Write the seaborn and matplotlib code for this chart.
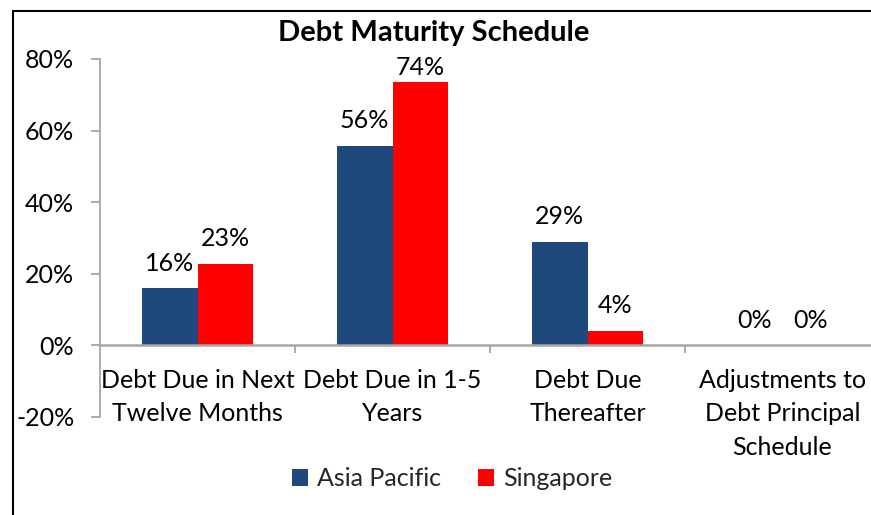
import matplotlib
matplotlib.use("Agg")
import matplotlib.pyplot as plt
import seaborn as sns
import pandas as pd
from matplotlib.ticker import FuncFormatter, FixedLocator
from matplotlib.patches import Patch
from matplotlib.lines import Line2D

categories = ["Debt Due in Next\nTwelve Months", "Debt Due in 1-5\nYears",
              "Debt Due\nThereafter", "Adjustments to\nDebt Principal\nSchedule"]
series = ["Asia Pacific", "Singapore"]
asia_pacific = [15.9, 55.6, 28.8, 0.0]
singapore = [22.7, 73.6, 4.1, 0.0]
asia_labels = ["16%", "56%", "29%", "0%"]
singapore_labels = ["23%", "74%", "4%", "0%"]
y_ticks = [-20, 0, 20, 40, 60, 80]

colors = {"Asia Pacific": "#1F497D", "Singapore": "#FF0000"}

df = pd.DataFrame({
    "category": categories * 2,
    "series": [series[0]] * 4 + [series[1]] * 4,
    "value": asia_pacific + singapore,
    "label": asia_labels + singapore_labels,
})

sns.set_theme(style="white")
plt.rcParams["font.family"] = ["Lato", "DejaVu Sans"]

FS = 18
fig = plt.figure(figsize=(8.71, 5.15), dpi=100)
W, H = 871, 515
ax = fig.add_axes([100 / W, (H - 417) / H, 780 / W, (417 - 59) / H])

sns.barplot(data=df, x="category", y="value", hue="series", palette=colors,
            width=0.574, saturation=1, ax=ax, legend=False, linewidth=0)

ax.set_xlim(-0.5, 3.5)
ax.set_ylim(-20, 80)
ax.set_xlabel("")
ax.set_ylabel("")

# data labels (labels near the top of the plot area are pushed down, as Excel does)
for cont, labs in zip(ax.containers, [asia_labels, singapore_labels]):
    for bar, lab in zip(cont, labs):
        top = bar.get_height()
        pad = 10 if top < 70 else 2
        ax.annotate(lab, (bar.get_x() + bar.get_width() / 2, top),
                    xytext=(0, pad), textcoords="offset points",
                    ha="center", va="bottom", fontsize=FS, color="black")

# spines
for s in ["top", "right"]:
    ax.spines[s].set_visible(False)
axis_col = "#A6A6A6"
ax.spines["left"].set_color(axis_col)
ax.spines["left"].set_linewidth(1.3)
ax.spines["bottom"].set_position(("data", 0))
ax.spines["bottom"].set_color(axis_col)
ax.spines["bottom"].set_linewidth(1.8)

ax.yaxis.set_major_locator(FixedLocator(y_ticks))
ax.yaxis.set_major_formatter(FuncFormatter(lambda v, p: f"{v:.0f}%"))
ax.tick_params(axis="y", direction="out", length=6.5, width=1.3, color=axis_col,
               labelsize=FS, pad=12, left=True, labelcolor="black")

ax.set_xticks(range(4))
ax.set_xticklabels(categories, fontsize=FS, linespacing=1.55, color="black")
ax.tick_params(axis="x", which="major", length=0, pad=17)
ax.set_xticks([0.5, 1.5, 2.5], minor=True)
ax.tick_params(axis="x", which="minor", direction="out", length=5.5, width=1.3,
               color=axis_col, bottom=True)

fig.text(434 / W, 1 - 33 / H, "Debt Maturity Schedule", ha="center", va="center",
         fontsize=21, fontweight="bold", color="black")

handles = [Patch(facecolor=colors[s], edgecolor="none") for s in series]
fig.legend(handles, series, loc="center", bbox_to_anchor=(452 / W, 1 - 479 / H),
           ncol=2, frameon=False, fontsize=FS, handlelength=0.65, handleheight=0.65,
           handletextpad=0.35, columnspacing=1.5)

# frame lines (top and left)
fig.add_artist(Line2D([13 / W, 1], [1 - 11 / H, 1 - 11 / H], color="black", lw=1.5,
                      transform=fig.transFigure))
fig.add_artist(Line2D([13 / W, 13 / W], [0, 1 - 11 / H], color="black", lw=1.5,
                      transform=fig.transFigure))

fig.savefig("out.png", dpi=100, facecolor="white")
